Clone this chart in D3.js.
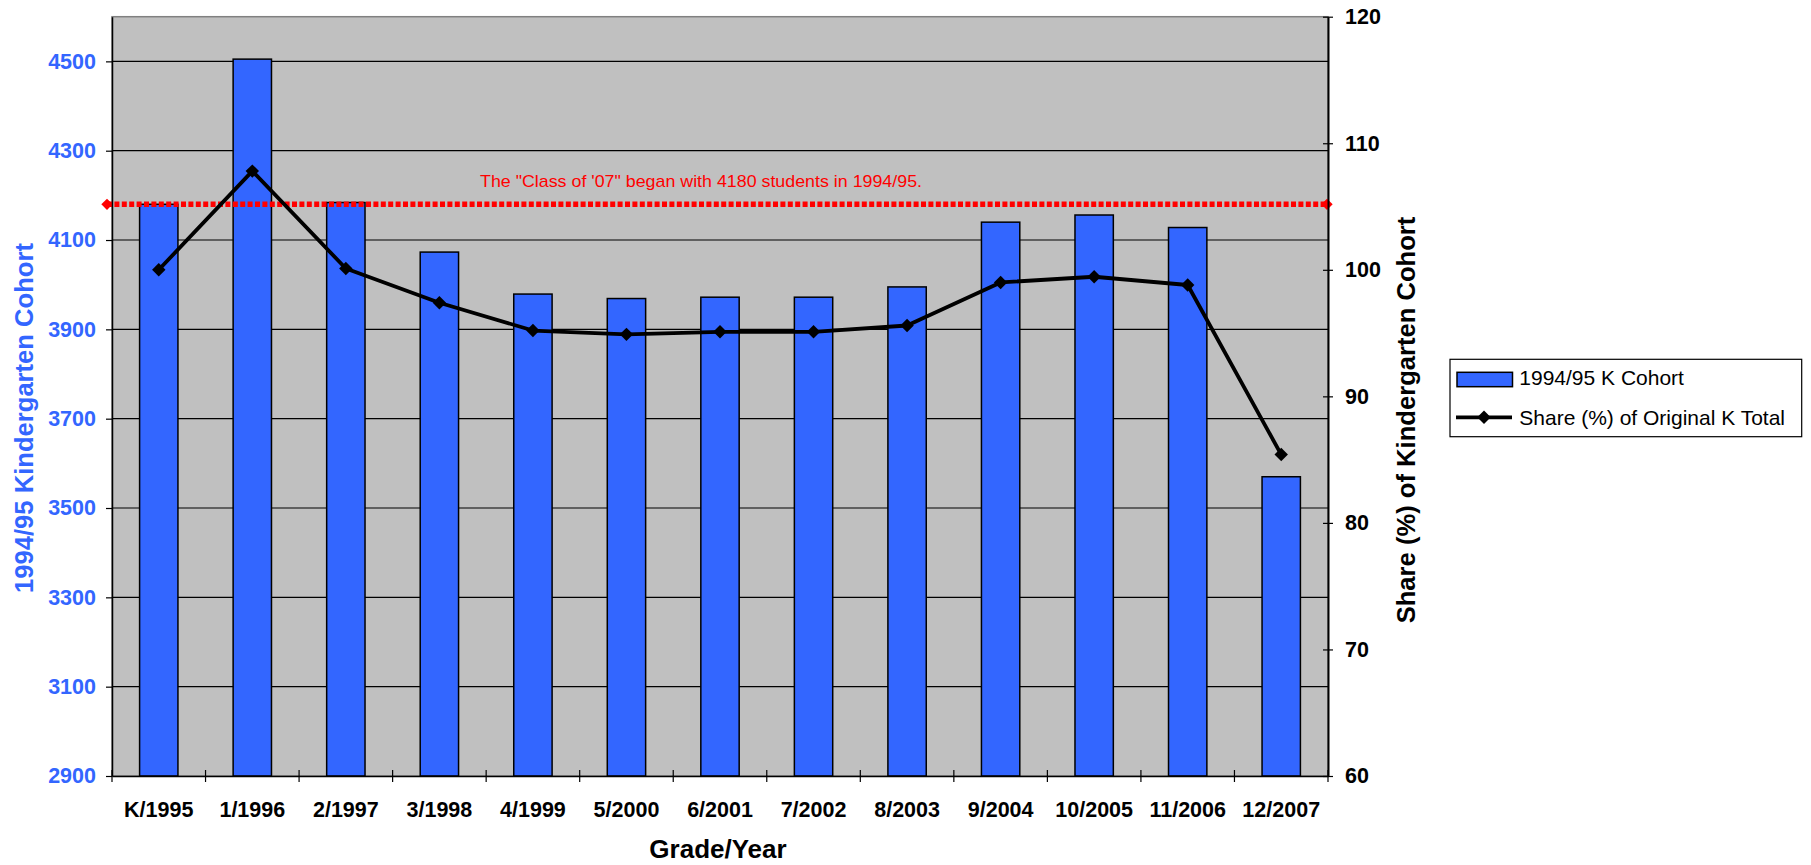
<!DOCTYPE html>
<html>
<head>
<meta charset="utf-8">
<script src="https://cdn.jsdelivr.net/npm/d3@7"></script>
<style>
  body { margin: 0; background: #fff; }
</style>
</head>
<body>
<svg id="chart" width="1811" height="865"></svg>
<script>
// chart data
let grades = ["K/1995", "1/1996", "2/1997", "3/1998", "4/1999", "5/2000", "6/2001",
  "7/2002", "8/2003", "9/2004", "10/2005", "11/2006", "12/2007"];
let cohort = [4180, 4505, 4184, 4073, 3979, 3969, 3972, 3972, 3995, 4140, 4156, 4128, 3570];
let share = [100, 107.8, 100.1, 97.4, 95.2, 94.9, 95.1, 95.1, 95.6, 99.0, 99.45, 98.8, 85.4];
let leftTicks = [2900, 3100, 3300, 3500, 3700, 3900, 4100, 4300, 4500];
let rightTicks = [60, 70, 80, 90, 100, 110, 120];
let startValue = [4180];

let barColor = "#3366ff";
let font = "'Liberation Sans', Arial, sans-serif";

function drawCohortChart(svgId) {
  let svg = d3.select(svgId);

  let left = 112, right = 1328, top = 16.7, bottom = 776;

  let x = d3.scaleBand()
    .domain(grades)
    .range([left, right]);
  let yLeft = d3.scaleLinear()
    .domain([2900, 4600])
    .range([bottom, top]);
  let yRight = d3.scaleLinear()
    .domain([60, 120])
    .range([bottom, top]);

  // plot background
  svg.append("rect")
    .attr("x", left)
    .attr("y", top)
    .attr("width", right - left)
    .attr("height", bottom - top)
    .style("fill", "#c0c0c0")
    .style("stroke", "#808080")
    .style("stroke-width", 1.5);

  // gridlines
  svg.selectAll(".grid")
    .data(leftTicks.slice(1))
    .enter()
    .append("line")
    .attr("x1", left)
    .attr("x2", right)
    .attr("y1", d => yLeft(d))
    .attr("y2", d => yLeft(d))
    .style("stroke", "#000")
    .style("stroke-width", 1.2);

  // bars
  let bw = x.bandwidth() * 0.41;
  svg.selectAll(".bar")
    .data(grades)
    .enter()
    .append("rect")
    .attr("x", d => x(d) + x.bandwidth() / 2 - bw / 2)
    .attr("y", (d, i) => yLeft(cohort[i]))
    .attr("width", bw)
    .attr("height", (d, i) => yLeft(2900) - yLeft(cohort[i]))
    .style("fill", barColor)
    .style("stroke", "#000")
    .style("stroke-width", 1.5);

  // red reference line for starting class size
  let ry = yLeft(startValue[0]);
  svg.append("line")
    .attr("x1", left - 5)
    .attr("x2", right)
    .attr("y1", ry)
    .attr("y2", ry)
    .style("stroke", "#ff0000")
    .style("stroke-width", 5.5)
    .style("stroke-dasharray", "5,2.4");
  [left - 5, right - 1].forEach(px => {
    svg.append("path")
      .attr("d", d3.symbol(d3.symbolSquare, 64)())
      .attr("transform", "translate(" + px + "," + ry + ") rotate(45)")
      .style("fill", "#ff0000");
  });
  svg.append("text")
    .attr("x", 701)
    .attr("y", 187)
    .attr("text-anchor", "middle")
    .attr("textLength", 442)
    .attr("lengthAdjust", "spacingAndGlyphs")
    .text("The \"Class of '07\" began with 4180 students in 1994/95.")
    .style("font-family", font)
    .style("font-size", 17)
    .style("fill", "#ff0000");

  // share line
  let line = d3.line()
    .x((d, i) => x(grades[i]) + x.bandwidth() / 2)
    .y(d => yRight(d));
  svg.append("path")
    .datum(share)
    .attr("d", line)
    .style("fill", "none")
    .style("stroke", "#000")
    .style("stroke-width", 3.8)
    .style("stroke-linejoin", "round");
  svg.selectAll(".marker")
    .data(share)
    .enter()
    .append("path")
    .attr("d", d3.symbol(d3.symbolSquare, 90)())
    .attr("transform", (d, i) => "translate(" + (x(grades[i]) + x.bandwidth() / 2) + "," + yRight(d) + ") rotate(45)")
    .style("fill", "#000");

  // left axis
  let gl = svg.append("g")
    .attr("transform", "translate(" + left + ",0)")
    .call(d3.axisLeft(yLeft).tickValues(leftTicks).tickFormat(d3.format("d"))
      .tickSizeInner(6).tickSizeOuter(0).tickPadding(10));
  gl.select(".domain").style("stroke", "#000").style("stroke-width", 1.5);
  gl.selectAll(".tick line").style("stroke", "#000").style("stroke-width", 1.2);
  gl.selectAll(".tick text")
    .style("font-family", font)
    .style("font-size", 21.5)
    .style("font-weight", "bold")
    .style("fill", barColor);

  // right axis
  let gr = svg.append("g")
    .attr("transform", "translate(" + right + ",0)")
    .call(d3.axisRight(yRight).tickValues(rightTicks).tickSizeOuter(0).tickSizeInner(5).tickPadding(12));
  gr.select(".domain").style("stroke", "#000").style("stroke-width", 2);
  gr.selectAll(".tick line")
    .attr("x1", -5)
    .style("stroke", "#000")
    .style("stroke-width", 1.2);
  gr.selectAll(".tick text")
    .style("font-family", font)
    .style("font-size", 21.5)
    .style("font-weight", "bold")
    .style("fill", "#000");

  // x axis with ticks at category boundaries
  let gx = svg.append("g")
    .attr("transform", "translate(0," + bottom + ")")
    .call(d3.axisBottom(x).tickSize(0).tickPadding(26));
  gx.select(".domain").style("stroke", "#000").style("stroke-width", 1.5);
  gx.selectAll(".tick text")
    .style("font-family", font)
    .style("font-size", 21.5)
    .style("font-weight", "bold")
    .style("fill", "#000");
  let bounds = grades.map(d => x(d)).concat([right]);
  gx.selectAll(".bound")
    .data(bounds)
    .enter()
    .append("line")
    .attr("x1", d => d)
    .attr("x2", d => d)
    .attr("y1", -6)
    .attr("y2", 6)
    .style("stroke", "#000")
    .style("stroke-width", 1.2);

  // axis titles
  svg.append("text")
    .attr("transform", "translate(33,418) rotate(-90)")
    .attr("text-anchor", "middle")
    .text("1994/95 Kindergarten Cohort")
    .style("font-family", font)
    .style("font-size", 25.6)
    .style("font-weight", "bold")
    .style("fill", barColor);
  svg.append("text")
    .attr("transform", "translate(1415,420) rotate(-90)")
    .attr("text-anchor", "middle")
    .text("Share (%) of Kindergarten Cohort")
    .style("font-family", font)
    .style("font-size", 25.6)
    .style("font-weight", "bold")
    .style("fill", "#000");
  svg.append("text")
    .attr("x", 718)
    .attr("y", 858)
    .attr("text-anchor", "middle")
    .text("Grade/Year")
    .style("font-family", font)
    .style("font-size", 26)
    .style("font-weight", "bold")
    .style("fill", "#000");

  // legend
  let lx = 1450, ly = 359.3;
  svg.append("rect")
    .attr("x", lx)
    .attr("y", ly)
    .attr("width", 351.7)
    .attr("height", 77.4)
    .style("fill", "#fff")
    .style("stroke", "#000")
    .style("stroke-width", 1.2);
  svg.append("rect")
    .attr("x", lx + 7)
    .attr("y", ly + 13)
    .attr("width", 55.5)
    .attr("height", 14.4)
    .style("fill", barColor)
    .style("stroke", "#000")
    .style("stroke-width", 1.5);
  svg.append("line")
    .attr("x1", lx + 6)
    .attr("x2", lx + 62)
    .attr("y1", ly + 58)
    .attr("y2", ly + 58)
    .style("stroke", "#000")
    .style("stroke-width", 3.8);
  svg.append("path")
    .attr("d", d3.symbol(d3.symbolSquare, 90)())
    .attr("transform", "translate(" + (lx + 34) + "," + (ly + 58) + ") rotate(45)")
    .style("fill", "#000");
  svg.append("text")
    .attr("x", lx + 69.3)
    .attr("y", ly + 26)
    .text("1994/95 K Cohort")
    .style("font-family", font)
    .style("font-size", 21)
    .style("fill", "#000");
  svg.append("text")
    .attr("x", lx + 69.3)
    .attr("y", ly + 65.5)
    .text("Share (%) of Original K Total")
    .style("font-family", font)
    .style("font-size", 21)
    .style("fill", "#000");
}

drawCohortChart("#chart");
</script>
</body>
</html>
